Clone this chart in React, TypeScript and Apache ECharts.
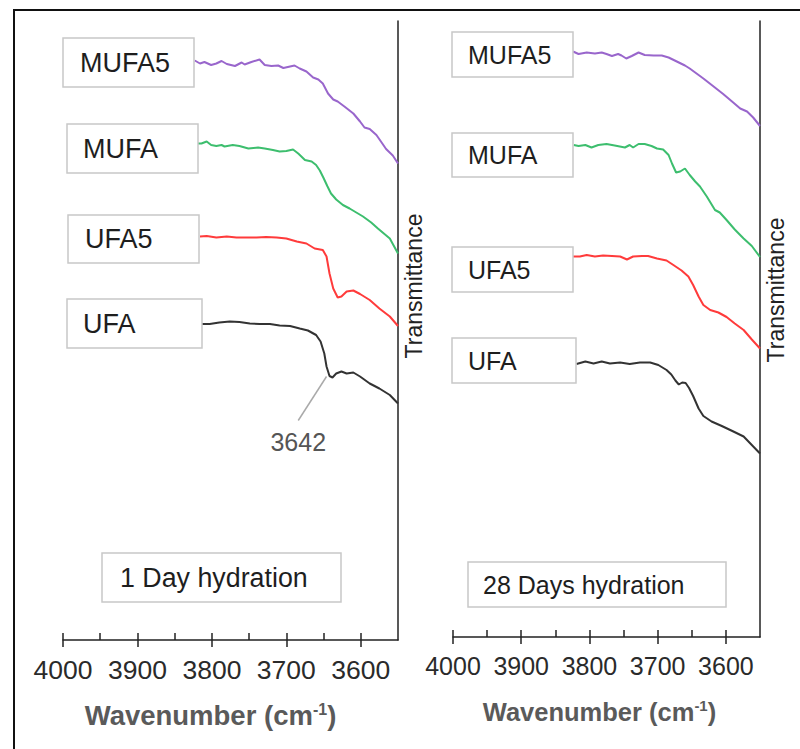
import React, { useEffect, useRef } from "react";
import * as echarts from "echarts";

// ---------- data (wavenumber cm-1, transmittance a.u., curves offset) ----------
const majorTicks = [4000, 3900, 3800, 3700, 3600];
const allTicks = [4000, 3950, 3900, 3850, 3800, 3750, 3700, 3650, 3600];

const day1MUFA5: [number, number][] = [
  [3823, 115.9], [3816, 115.3], [3810, 115.6], [3801, 115.0], [3794, 115.3], [3787, 115.8],
  [3780, 115.2], [3769, 114.8], [3760, 115.5], [3756, 115.1], [3747, 115.6], [3736, 116.1],
  [3729, 115.0], [3720, 114.8], [3711, 114.9], [3704, 114.4], [3695, 114.7], [3689, 114.9],
  [3682, 114.3], [3673, 113.7], [3664, 112.5], [3657, 112.1], [3651, 111.3], [3644, 109.3],
  [3637, 108.1], [3631, 107.7], [3622, 106.7], [3610, 105.3], [3601, 103.7], [3595, 102.5],
  [3588, 102.2], [3579, 101.0], [3572, 99.5], [3566, 98.2], [3557, 96.9], [3550, 95.3],
];
const day1MUFA: [number, number][] = [
  [3820, 99.3], [3814, 99.3], [3807, 99.7], [3801, 99.0], [3794, 98.8], [3787, 99.0],
  [3783, 98.7], [3772, 99.0], [3763, 98.8], [3751, 98.3], [3738, 98.5], [3729, 98.3],
  [3718, 98.0], [3709, 97.7], [3700, 97.8], [3691, 98.1], [3684, 97.3], [3675, 96.0],
  [3666, 95.7], [3660, 95.0], [3655, 93.9], [3650, 92.4], [3645, 90.8], [3640, 89.3],
  [3633, 88.1], [3624, 87.0], [3615, 86.3], [3606, 85.5], [3597, 84.7], [3586, 83.5],
  [3577, 82.3], [3561, 80.3], [3550, 77.3],
];
const day1UFA5: [number, number][] = [
  [3816, 80.7], [3807, 80.8], [3794, 80.5], [3780, 80.7], [3767, 80.5], [3754, 80.5],
  [3740, 80.5], [3727, 80.6], [3713, 80.5], [3700, 80.3], [3686, 79.7], [3673, 79.3],
  [3662, 78.3], [3651, 78.0], [3646, 76.7], [3642, 73.3], [3637, 70.3], [3631, 68.5],
  [3626, 68.7], [3619, 69.7], [3610, 69.9], [3601, 69.2], [3588, 68.0], [3575, 66.3],
  [3561, 64.7], [3550, 62.8],
];
const day1UFA: [number, number][] = [
  [3814, 63.2], [3803, 63.2], [3790, 63.5], [3776, 63.7], [3763, 63.6], [3749, 63.3],
  [3736, 63.2], [3722, 63.2], [3709, 62.9], [3695, 62.8], [3682, 62.3], [3671, 61.9],
  [3660, 61.0], [3654, 59.7], [3649, 57.3], [3646, 54.7], [3642, 52.8], [3638, 52.5],
  [3633, 53.3], [3626, 53.7], [3619, 53.3], [3610, 53.5], [3601, 52.7], [3588, 51.3],
  [3575, 50.3], [3561, 49.0], [3550, 47.3],
];

const day28MUFA5: [number, number][] = [
  [3824, 117.1], [3816, 116.6], [3804, 116.9], [3792, 116.7], [3782, 116.9], [3775, 116.6],
  [3767, 116.2], [3758, 116.6], [3753, 116.3], [3746, 115.7], [3738, 116.2], [3728, 116.9],
  [3719, 116.4], [3706, 116.3], [3694, 116.3], [3684, 115.9], [3672, 115.1], [3660, 114.3],
  [3653, 113.7], [3643, 112.7], [3633, 111.7], [3618, 110.1], [3604, 108.6], [3591, 107.1],
  [3579, 105.7], [3569, 105.1], [3560, 103.9], [3550, 102.2],
];
const day28MUFA: [number, number][] = [
  [3823, 98.4], [3816, 98.2], [3806, 98.4], [3797, 97.9], [3787, 98.4], [3775, 98.6],
  [3763, 98.3], [3748, 97.9], [3741, 98.4], [3736, 97.9], [3728, 98.6], [3719, 98.6],
  [3709, 98.2], [3701, 97.7], [3692, 97.5], [3684, 96.4], [3679, 94.7], [3673, 92.9],
  [3667, 93.1], [3660, 93.7], [3653, 92.4], [3645, 91.1], [3638, 90.1], [3628, 88.1],
  [3616, 85.4], [3609, 84.9], [3599, 83.4], [3587, 81.5], [3574, 79.7], [3562, 78.2],
  [3550, 76.0],
];
const day28UFA5: [number, number][] = [
  [3824, 76.1], [3814, 76.1], [3804, 76.4], [3792, 76.1], [3780, 76.3], [3767, 76.2],
  [3755, 76.1], [3745, 75.5], [3736, 76.1], [3723, 76.2], [3714, 76.2], [3701, 75.7],
  [3687, 75.3], [3677, 74.4], [3665, 73.3], [3655, 72.1], [3648, 70.4], [3640, 68.1],
  [3633, 66.4], [3623, 65.4], [3611, 64.9], [3599, 64.0], [3587, 62.7], [3574, 61.4],
  [3562, 59.5], [3550, 57.7],
];
const day28UFA: [number, number][] = [
  [3819, 54.6], [3806, 55.1], [3794, 54.7], [3782, 55.1], [3770, 54.7], [3755, 54.9],
  [3741, 54.6], [3726, 54.9], [3711, 54.9], [3699, 54.4], [3687, 53.4], [3680, 52.5],
  [3674, 51.3], [3669, 50.5], [3664, 50.9], [3659, 50.8], [3654, 49.8], [3648, 48.2],
  [3640, 45.7], [3633, 44.2], [3621, 43.1], [3606, 42.2], [3589, 41.1], [3574, 40.1],
  [3562, 38.4], [3550, 36.7],
];

const peakLabel = "3642";
const peakLineFrom: [number, number] = [3646, 52.7];
const peakLineTo: [number, number] = [3684, 43.9];
const peakTextAt: [number, number] = [3684, 39.7];

const seriesNames = ["MUFA5", "MUFA", "UFA5", "UFA"];
const seriesColors = ["#9966CC", "#3DBE6E", "#FF3B3B", "#333333"];
const panelTitles = ["1 Day hydration", "28 Days hydration"];

const FONT = "'Liberation Sans', Arial, sans-serif";

function buildOption() {
  const axisColor = "#222";
  const mkX = (gridIndex: number, fontSize: number, namePad: number[], nameSize: number) => [
    {
      gridIndex,
      type: "value",
      inverse: true,
      min: 3550,
      max: 4000,
      position: "bottom",
      axisLine: { show: true, lineStyle: { color: axisColor, width: 1.5 } },
      axisTick: { show: true, inside: false, length: 7, customValues: majorTicks, lineStyle: { color: axisColor, width: 1.5 } },
      axisLabel: {
        show: true,
        customValues: majorTicks,
        formatter: (v: number) => String(v),
        fontSize,
        color: "#2a2a2a",
        fontFamily: FONT,
        margin: 16,
      },
      splitLine: { show: false },
      name: "{a|Wavenumber (cm}{s|-1}{a|)}",
      nameLocation: "middle",
      nameGap: 61,
      nameTextStyle: {
        padding: namePad,
        rich: {
          a: { fontSize: nameSize, fontWeight: "bold", color: "#5a5a5a", fontFamily: FONT },
          s: { fontSize: Math.round(nameSize * 0.58), fontWeight: "bold", color: "#5a5a5a", fontFamily: FONT, padding: [0, 0, 12, 0] },
        },
      },
    },
    {
      gridIndex,
      type: "value",
      inverse: true,
      min: 3550,
      max: 4000,
      position: "bottom",
      axisLine: { show: false },
      axisTick: { show: true, inside: true, length: 7, customValues: allTicks, lineStyle: { color: axisColor, width: 1.5 } },
      axisLabel: { show: false },
      splitLine: { show: false },
    },
  ];
  const mkY = (gridIndex: number, max: number, pad: number[]) => ({
    gridIndex,
    type: "value",
    min: 0,
    max,
    position: "right",
    axisLine: { show: true, onZero: false, lineStyle: { color: axisColor, width: 1.5 } },
    axisTick: { show: false },
    axisLabel: { show: false },
    splitLine: { show: false },
    name: "Transmittance",
    nameLocation: "middle",
    nameRotate: 90,
    nameGap: 4,
    nameTextStyle: { fontSize: 23, color: "#222", fontFamily: FONT, padding: pad },
  });

  const leftData = [day1MUFA5, day1MUFA, day1UFA5, day1UFA];
  const rightData = [day28MUFA5, day28MUFA, day28UFA5, day28UFA];
  const series: any[] = [];
  leftData.forEach((d, i) => {
    const s: any = {
      name: "1d " + seriesNames[i],
      type: "line",
      xAxisIndex: 0,
      yAxisIndex: 0,
      data: d,
      showSymbol: false,
      symbol: "none",
      lineStyle: { color: seriesColors[i], width: 2 },
      itemStyle: { color: seriesColors[i] },
    };
    if (i === 3) {
      s.markLine = {
        silent: true,
        symbol: "none",
        label: { show: false },
        lineStyle: { color: "#aaaaaa", width: 1.5, type: "solid" },
        data: [[{ coord: peakLineFrom }, { coord: peakLineTo }]],
      };
      s.markPoint = {
        silent: true,
        symbol: "circle",
        symbolSize: 0,
        data: [
          {
            coord: peakTextAt,
            label: { show: true, position: "inside", formatter: peakLabel, fontSize: 25, color: "#555", fontFamily: FONT },
          },
        ],
      };
    }
    series.push(s);
  });
  rightData.forEach((d, i) => {
    series.push({
      name: "28d " + seriesNames[i],
      type: "line",
      xAxisIndex: 2,
      yAxisIndex: 1,
      data: d,
      showSymbol: false,
      symbol: "none",
      lineStyle: { color: seriesColors[i], width: 2 },
      itemStyle: { color: seriesColors[i] },
    });
  });

  const box = (x: number, y: number, w: number, h: number, text: string, tx: number, size: number) => [
    {
      type: "rect",
      silent: true,
      shape: { x, y, width: w, height: h },
      style: { fill: "#fff", stroke: "#c8c8c8", lineWidth: 1.5 },
      z: 10,
    },
    {
      type: "text",
      silent: true,
      x: tx,
      y: y + h / 2,
      style: { text, fontSize: size, fill: "#1e1e1e", fontFamily: FONT, align: "left", verticalAlign: "middle" },
      z: 11,
    },
  ];

  const graphic: any[] = [
    {
      type: "rect",
      silent: true,
      shape: { x: 14, y: 10, width: 800, height: 760 },
      style: { fill: "none", stroke: "#111", lineWidth: 2 },
      z: 12,
    },
    ...box(63, 38, 131, 49, seriesNames[0], 80, 27),
    ...box(67, 124, 131, 49, seriesNames[1], 83, 27),
    ...box(68, 215, 131, 48, seriesNames[2], 85, 27),
    ...box(67, 299, 135, 49, seriesNames[3], 83, 27),
    ...box(102, 553, 239, 49, panelTitles[0], 120, 26.8),
    ...box(452, 32, 121, 45, seriesNames[0], 468, 25),
    ...box(452, 133, 121, 44, seriesNames[1], 468, 25),
    ...box(452, 247, 121, 45, seriesNames[2], 468, 25),
    ...box(452, 338, 124, 45, seriesNames[3], 468, 25),
    ...box(468, 562, 258, 45, panelTitles[1], 483, 25),
  ];

  return {
    animation: false,
    backgroundColor: "#fff",
    textStyle: { fontFamily: FONT },
    grid: [
      { left: 63, top: 21, width: 335, height: 619 },
      { left: 453, top: 21, width: 307, height: 616 },
    ],
    xAxis: [...mkX(0, 26.5, [0, 40, 0, 0], 27.5), ...mkX(1, 25, [0, 14, 0, 0], 25.5)],
    yAxis: [mkY(0, 123.8, [0, 0, 0, 89]), mkY(1, 123.2, [0, 0, 0, 78])],
    series,
    graphic,
  };
}

export default function App() {
  const ref = useRef<HTMLDivElement>(null);
  useEffect(() => {
    if (!ref.current) return;
    const chart = echarts.init(ref.current, undefined, { renderer: "svg" });
    chart.setOption(buildOption() as any);
    return () => chart.dispose();
  }, []);
  return (
    <div
      ref={ref}
      style={{ position: "fixed", left: 0, top: 0, width: 800, height: 749, background: "#fff" }}
    />
  );
}
